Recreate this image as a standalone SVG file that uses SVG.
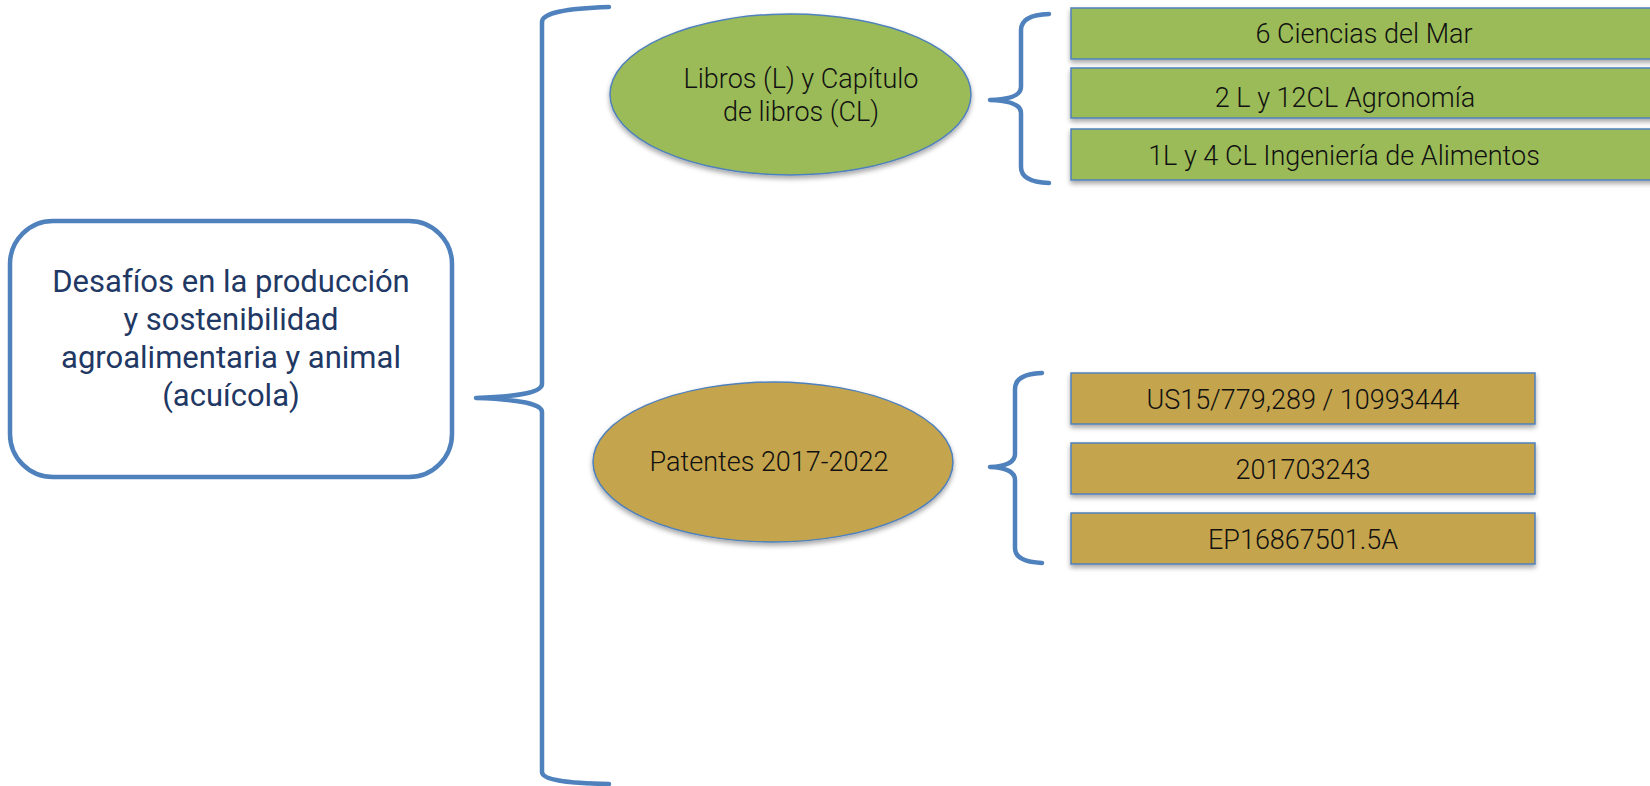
<svg xmlns="http://www.w3.org/2000/svg" width="1650" height="786" viewBox="0 0 1650 786">
<style>
  .brace{fill:none;stroke:#4F81BD;stroke-width:4.5;stroke-linecap:round;stroke-linejoin:round}
  .main{fill:#FFFFFF;stroke:#4F81BD;stroke-width:4.5}
  .maintxt{font-family:Roboto,"Liberation Sans",sans-serif;font-size:31px;fill:#1F3864;text-anchor:middle}
  .green{fill:#9BBB59;stroke:#4F81BD;stroke-width:1.5}
  .gold{fill:#C4A44E;stroke:#4F81BD;stroke-width:1.5}
  .txt{font-family:Roboto,"Liberation Sans",sans-serif;font-weight:300;font-size:27px;fill:#111111;text-anchor:middle}
</style>
<defs>
  <filter id="sh" x="-10%" y="-10%" width="120%" height="140%">
    <feDropShadow dx="0" dy="3" stdDeviation="2.5" flood-color="#000000" flood-opacity="0.35"/>
  </filter>
</defs>
<g id="connectors">
  <path class="brace" d="M609,7 Q542,9 542,22 L542,384 Q542,396 476,398 Q542,400 542,412 L542,772 Q542,783 609,784"/>
  <path class="brace" d="M1049,14 Q1021,15 1021,30 L1021,87 Q1021,99 990,100 Q1021,101 1021,113 L1021,167 Q1021,182 1049,183"/>
  <path class="brace" d="M1042,373 Q1015,374 1015,389 L1015,454 Q1015,466 990,467 Q1015,468 1015,480 L1015,548 Q1015,562 1042,563"/>
</g>
<g id="main">
  <rect class="main" x="10" y="221" width="442" height="256" rx="43" ry="43"/>
  <text class="maintxt" x="231" y="292">Desafíos en la producción</text>
  <text class="maintxt" x="231" y="330">y sostenibilidad</text>
  <text class="maintxt" x="231" y="368">agroalimentaria y animal</text>
  <text class="maintxt" x="231" y="406">(acuícola)</text>
</g>
<g id="libros">
  <ellipse class="green" cx="790.5" cy="94.5" rx="180.5" ry="80.5" filter="url(#sh)"/>
  <text class="txt" x="801" y="88">Libros (L) y Capítulo</text>
  <text class="txt" x="801" y="121">de libros (CL)</text>
</g>
<g id="patentes">
  <ellipse class="gold" cx="773" cy="462" rx="180" ry="80" filter="url(#sh)"/>
  <text class="txt" x="769" y="471">Patentes 2017-2022</text>
</g>
<g id="ciencias">
  <rect class="green" x="1071" y="8" width="600" height="51" filter="url(#sh)"/>
  <text class="txt" x="1364" y="43">6 Ciencias del Mar</text>
</g>
<g id="agronomia">
  <rect class="green" x="1071" y="68" width="600" height="50" filter="url(#sh)"/>
  <text class="txt" x="1345" y="107">2 L y 12CL Agronomía</text>
</g>
<g id="alimentos">
  <rect class="green" x="1071" y="129" width="600" height="51" filter="url(#sh)"/>
  <text class="txt" x="1344" y="165">1L y 4 CL Ingeniería de Alimentos</text>
</g>
<g id="us">
  <rect class="gold" x="1071" y="373" width="464" height="51" filter="url(#sh)"/>
  <text class="txt" x="1303" y="409">US15/779,289 / 10993444</text>
</g>
<g id="p201703243">
  <rect class="gold" x="1071" y="443" width="464" height="51" filter="url(#sh)"/>
  <text class="txt" x="1303" y="479">201703243</text>
</g>
<g id="ep">
  <rect class="gold" x="1071" y="513" width="464" height="51" filter="url(#sh)"/>
  <text class="txt" x="1303" y="549">EP16867501.5A</text>
</g>
</svg>
